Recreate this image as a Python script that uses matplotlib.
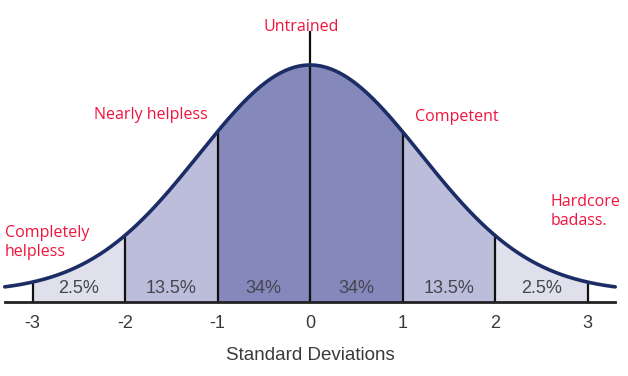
import numpy as np
import matplotlib.pyplot as plt

# band edges in standard deviations and the share of each band
band_edges = [-3, -2, -1, 0, 1, 2, 3]
band_shares = ["2.5%", "13.5%", "34%", "34%", "13.5%", "2.5%"]
band_colors = ["#e0e0ed", "#bcbdda", "#8488ba", "#8488ba", "#bcbdda", "#e0e0ed"]

tick_values = [-3, -2, -1, 0, 1, 2, 3]
tick_labels = ["-3", "-2", "-1", "0", "1", "2", "3"]

# red annotations: text, x (SD), y (relative height), alignment
notes = ["Untrained", "Nearly helpless", "Competent",
         "Hardcore\nbadass.", "Completely\nhelpless"]
note_x = [-0.1, -1.11, 1.14, 2.6, -3.3]
note_y = [1.16, 0.79, 0.78, 0.38, 0.25]
note_ha = ["center", "right", "left", "left", "left"]

# shape of the drawn bell (it is wider than a true normal)
curve_sigma = 1.2
curve_floor = 0.042
curve_span = (-3.3, 3.3)


def bell(x):
    return curve_floor + (1 - curve_floor) * np.exp(-x ** 2 / (2 * curve_sigma ** 2))


def main():
    fig = plt.figure(figsize=(6.28, 3.76), dpi=100)
    ax = fig.add_axes([0, 0, 1, 1])
    ax.set_xlim(-310 / 92.5, 318 / 92.5)
    ax.set_ylim(-74 / 237, 302 / 237)
    ax.axis("off")

    # bands under the curve
    for i in range(len(band_shares)):
        xs = np.linspace(band_edges[i], band_edges[i + 1], 60)
        ax.fill_between(xs, 0, bell(xs), color=band_colors[i], lw=0)
        ax.text((band_edges[i] + band_edges[i + 1]) / 2, 0.055, band_shares[i],
                ha="center", va="center", fontsize=13, color="#45454f",
                family="Liberation Sans")

    xt = np.linspace(curve_span[0], curve_span[1], 400)
    ax.plot(xt, bell(xt), color="#1c2d66", lw=2.6, solid_capstyle="round", zorder=4)

    # vertical dividers
    for e in band_edges:
        top = bell(e) if e != 0 else 1.14
        ax.plot([e, e], [0, top], color="#111111", lw=1.6, zorder=3)

    # baseline
    ax.plot(curve_span, [0, 0], color="#222222", lw=2, zorder=5)

    for v, lab in zip(tick_values, tick_labels):
        ax.text(v, -0.09, lab, ha="center", va="center", fontsize=13,
                color="#3a3a3a", family="Liberation Sans")
    ax.text(0, -0.225, "Standard Deviations", ha="center", va="center",
            fontsize=13.5, color="#3a3a3a", family="Liberation Sans")

    for t, x, y, ha in zip(notes, note_x, note_y, note_ha):
        ax.text(x, y, t, ha=ha, va="center", fontsize=11.5, color="#f0143c",
                family="Open Sans", linespacing=1.25)

    fig.savefig("out.png", dpi=100)


if __name__ == '__main__':
    main()
